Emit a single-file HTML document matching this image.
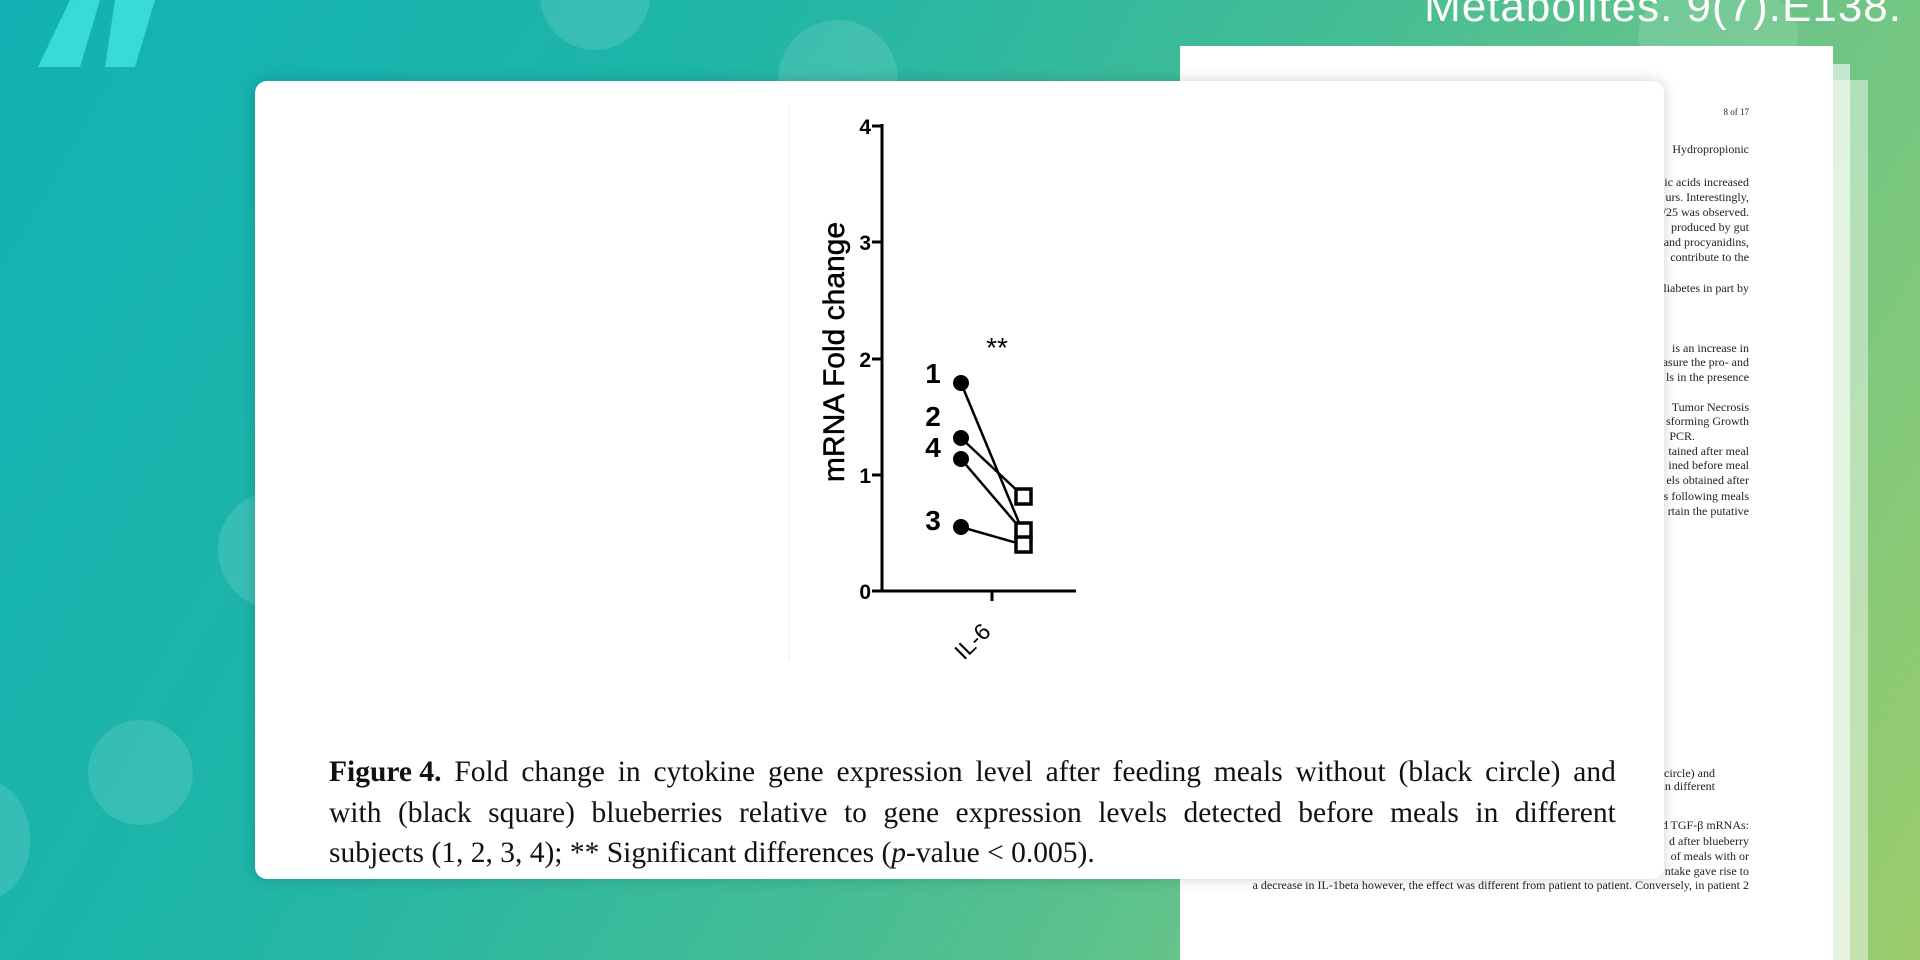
<!DOCTYPE html>
<html style="width:1920px;height:960px;overflow:hidden"><head><meta charset="utf-8"><style>
*{margin:0;padding:0;box-sizing:border-box}
body{width:1920px;height:960px;overflow:hidden;position:relative;font-family:"Liberation Sans",sans-serif;
background:linear-gradient(120deg,#12b2b4 0%,#1fb5a8 30%,#45bd95 55%,#6fc585 75%,#9ccc6c 100%);}
.c{position:absolute;border-radius:50%;background:rgba(255,255,255,0.12)}
.pg{position:absolute;background:#fff}
.t{position:absolute;right:171px;font-family:"Liberation Serif",serif;font-size:12px;line-height:14px;color:#222;white-space:nowrap}
.card{position:absolute;left:255px;top:81px;width:1409px;height:798px;background:#fff;border-radius:12px;box-shadow:0 0 14px rgba(0,0,0,0.18)}
.cap{position:absolute;left:329px;top:752px;width:1287px;font-family:"Liberation Serif",serif;font-size:29.5px;line-height:40.5px;color:#111}
.cap .j{white-space:nowrap;display:flex;justify-content:space-between}
.cap .l{white-space:nowrap;text-align:left;text-align-last:left}
</style></head><body>
<div class="c" style="left:540px;top:-60px;width:110px;height:110px"></div>
<div class="c" style="left:778px;top:20px;width:120px;height:120px"></div>
<div class="c" style="left:88px;top:720px;width:105px;height:105px"></div>
<div class="c" style="left:218px;top:490px;width:120px;height:120px"></div>
<div class="c" style="left:-60px;top:780px;width:90px;height:120px"></div>
<div class="c" style="left:1638px;top:-20px;width:160px;height:110px"></div>
<svg style="position:absolute;left:30px;top:0" width="140" height="70"><polygon points="40,0 70,0 50,67 8,67" fill="#3ee0e0" opacity="0.85"/><polygon points="85,0 125,0 105,67 75,67" fill="#3ee0e0" opacity="0.85"/></svg>
<div style="position:absolute;right:18px;top:-18px;font-size:44px;color:#fff;white-space:nowrap;letter-spacing:1px">Metabolites. 9(7).E138.</div>
<div class="pg" style="left:1200px;top:80px;width:668px;height:880px;opacity:0.45"></div>
<div class="pg" style="left:1190px;top:64px;width:660px;height:896px;opacity:0.6"></div>
<div class="pg" style="left:1180px;top:46px;width:653px;height:914px"></div>
<div class="t" style="top:105px;font-size:9px">8 of 17</div>
<div class="t" style="top:142px">Hydropropionic</div>
<div class="t" style="top:175px">nic acids increased</div>
<div class="t" style="top:190px">urs. Interestingly,</div>
<div class="t" style="top:205px">/25 was observed.</div>
<div class="t" style="top:220px">produced by gut</div>
<div class="t" style="top:235px">and procyanidins,</div>
<div class="t" style="top:250px">contribute to the</div>
<div class="t" style="top:281px">liabetes in part by</div>
<div class="t" style="top:341px">is an increase in</div>
<div class="t" style="top:355px">asure the pro- and</div>
<div class="t" style="top:370px">ls in the presence</div>
<div class="t" style="top:400px">Tumor Necrosis</div>
<div class="t" style="top:414px">sforming Growth</div>
<div class="t" style="top:429px;right:225px">PCR.</div>
<div class="t" style="top:444px">tained after meal</div>
<div class="t" style="top:458px">ined before meal</div>
<div class="t" style="top:473px">els obtained after</div>
<div class="t" style="top:489px">s following meals</div>
<div class="t" style="top:504px">rtain the putative</div>
<div class="t" style="top:766px;right:205px">ack circle) and</div>
<div class="t" style="top:779px;right:205px">ls in different</div>
<div class="t" style="top:818px">nd TGF-β mRNAs:</div>
<div class="t" style="top:834px">d after blueberry</div>
<div class="t" style="top:849px">of meals with or</div>
<div class="t" style="top:864px">ntake gave rise to</div>
<div class="t" style="top:878px">a decrease in IL-1beta however, the effect was different from patient to patient. Conversely, in patient 2</div>
<div class="card"></div>
<svg style="position:absolute;left:0;top:0" width="1920" height="960">
<line x1="789" y1="104" x2="789" y2="661" stroke="#eee" stroke-width="1"/>
<g stroke="#000" stroke-width="3" fill="none">
<line x1="882" y1="124" x2="882" y2="592"/>
<line x1="881" y1="591" x2="1076" y2="591"/>
<line x1="872" y1="126" x2="882" y2="126"/><line x1="872" y1="242" x2="882" y2="242"/>
<line x1="872" y1="359" x2="882" y2="359"/><line x1="872" y1="475" x2="882" y2="475"/>
<line x1="872" y1="591" x2="882" y2="591"/>
<line x1="992" y1="591" x2="992" y2="601"/>
</g>
<g stroke="#000" stroke-width="2.5">
<line x1="961" y1="383" x2="1020" y2="525"/>
<line x1="961" y1="438" x2="1024" y2="497"/>
<line x1="961" y1="459" x2="1020" y2="528"/>
<line x1="961" y1="527" x2="1024" y2="545"/>
</g>
<g fill="#000"><circle cx="961" cy="383" r="8"/><circle cx="961" cy="438" r="8"/><circle cx="961" cy="459" r="8"/><circle cx="961" cy="527" r="8"/></g>
<g fill="#fff" stroke="#000" stroke-width="3.5"><rect x="1016" y="489" width="15" height="15"/><rect x="1016" y="523" width="15" height="15"/><rect x="1016" y="537" width="15" height="15"/></g>
<g font-family="Liberation Sans" font-weight="bold" font-size="21" text-anchor="end">
<text x="871" y="134">4</text><text x="871" y="250">3</text><text x="871" y="367">2</text><text x="871" y="483">1</text><text x="871" y="599">0</text></g>
<g font-family="Liberation Sans" font-weight="bold" font-size="28" text-anchor="middle">
<text x="933" y="383">1</text><text x="933" y="426">2</text><text x="933" y="457">4</text><text x="933" y="530">3</text></g>
<text x="997" y="357" font-family="Liberation Sans" font-size="28" text-anchor="middle">**</text>
<text transform="translate(844,352) rotate(-90)" font-family="Liberation Sans" font-size="30" text-anchor="middle" stroke="#000" stroke-width="0.5">mRNA Fold change</text>
<text transform="translate(978,647) rotate(-45)" font-family="Liberation Sans" font-size="23" text-anchor="middle">IL-6</text>
</svg>
<div class="cap">
<div class="j"><span><b>Figure 4.</b></span><span>Fold</span><span>change</span><span>in</span><span>cytokine</span><span>gene</span><span>expression</span><span>level</span><span>after</span><span>feeding</span><span>meals</span><span>without</span><span>(black</span><span>circle)</span><span>and</span></div>
<div class="j"><span>with</span><span>(black</span><span>square)</span><span>blueberries</span><span>relative</span><span>to</span><span>gene</span><span>expression</span><span>levels</span><span>detected</span><span>before</span><span>meals</span><span>in</span><span>different</span></div>
<div class="l">subjects (1, 2, 3, 4); ** Significant differences (<i>p</i>-value &lt; 0.005).</div>
</div>
</body></html>
